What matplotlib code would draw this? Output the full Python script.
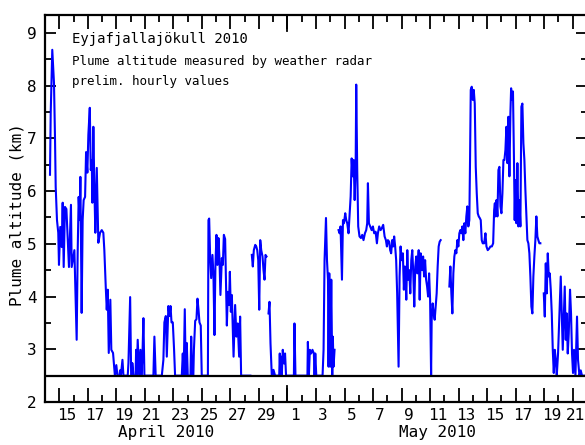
#!/usr/bin/env python3
"""Eyjafjallajokull 2010 plume altitude from weather radar (hourly, preliminary)."""

import matplotlib

matplotlib.use("Agg")
import matplotlib.pyplot as plt
import numpy as np

# time axis: day of April 2010 (31 = 1 May), altitude in km a.s.l.
# values at 2.5 km sit on the radar detection floor
seg1_day = [
    14.35, 14.40, 14.51, 14.63, 14.70, 14.75, 14.84, 14.93, 14.98, 15.07,
    15.17, 15.24, 15.31, 15.40, 15.50, 15.68, 15.82, 15.87, 16.06, 16.15,
    16.22, 16.29, 16.36, 16.43, 16.48, 16.53, 16.57, 16.64, 16.71, 16.81,
    16.88, 16.97, 17.04, 17.14, 17.21, 17.28, 17.32, 17.39, 17.46, 17.53,
    17.63, 17.74, 17.86, 17.98, 18.09, 18.16, 18.26, 18.33, 18.40, 18.47,
    18.58, 18.65, 18.77, 18.90, 19.00, 19.08, 19.22, 19.26, 19.32, 19.43,
    19.50, 19.80, 19.85, 19.97, 20.04, 20.10, 20.12, 20.20, 20.35, 20.39,
    20.43, 20.50, 20.60, 20.69, 20.76, 20.83, 20.90, 20.97, 21.60, 21.67,
    21.76, 22.19, 22.30, 22.37, 22.47, 22.54, 22.65, 22.73, 22.80, 22.87,
    22.96, 23.05, 23.12, 23.59, 23.66, 23.72, 23.80, 23.87, 23.94, 24.01,
    24.20, 24.25, 24.32, 24.40, 24.44, 24.53, 24.62, 24.69, 24.76, 24.83,
    24.92, 24.99, 25.42, 25.46, 25.51, 25.58, 25.65, 25.74, 25.81, 25.88,
    25.95, 26.02, 26.09, 26.16, 26.23, 26.30, 26.40, 26.47, 26.54, 26.63,
    26.75, 26.82, 26.90, 26.96, 27.03, 27.10, 27.22, 27.33, 27.42, 27.51,
    27.61, 27.68, 27.75, 28.40,
]
seg1_km = [
    6.31, 7.48, 8.68, 8.05, 7.03, 6.08, 5.45, 5.21, 4.60, 5.32,
    4.94, 5.78, 4.56, 5.70, 5.66, 4.56, 5.74, 4.56, 4.88, 3.88,
    3.18, 4.83, 5.89, 5.45, 6.27, 4.83, 3.69, 5.45, 5.83, 5.89,
    6.74, 6.35, 7.07, 7.58, 6.40, 6.59, 5.78, 7.22, 6.08, 5.21,
    6.44, 5.02, 5.21, 5.26, 5.21, 4.88, 4.18, 3.75, 4.13, 2.93,
    3.94, 2.99, 2.93, 2.50, 2.70, 2.50, 2.50, 2.60, 2.50, 2.80,
    2.50, 2.50, 2.74, 3.99, 2.50, 2.50, 2.74, 2.50, 2.50, 2.99,
    2.50, 3.18, 2.50, 2.99, 2.50, 2.86, 3.59, 2.50, 2.50, 3.24,
    2.50, 2.50, 2.80, 3.51, 3.63, 2.86, 3.82, 3.63, 3.82, 3.51,
    3.51, 2.99, 2.50, 2.50, 2.92, 2.50, 3.76, 2.50, 3.12, 2.50,
    2.50, 3.24, 2.50, 2.50, 2.99, 3.54, 3.57, 3.96, 3.76, 3.51,
    3.45, 2.50, 2.50, 5.45, 5.48, 4.73, 4.35, 4.79, 4.41, 3.27,
    4.60, 5.17, 4.60, 5.11, 4.73, 4.03, 4.73, 4.60, 5.17, 5.09,
    3.45, 4.09, 3.84, 4.47, 3.71, 4.03, 2.86, 3.84, 3.24, 3.49,
    2.86, 3.62, 2.50, 2.50,
]

seg2_day = [28.50, 28.57, 28.64, 28.74, 28.81, 28.88, 28.95, 29.02, 29.09,
            29.16, 29.25, 29.32, 29.39, 29.46, 29.53]
seg2_km = [4.79, 4.57, 4.88, 4.98, 4.95, 4.88, 4.69, 3.75, 5.07,
           4.88, 4.76, 4.50, 4.32, 4.79, 4.76]

seg3_day = [
    29.67, 29.74, 29.81, 29.90, 29.96, 30.02, 30.13, 30.42, 30.46, 30.50,
    30.55, 30.60, 30.67, 30.76, 30.83, 30.90, 31.45, 31.49, 31.56, 32.40,
    32.43, 32.50, 32.57, 32.66, 32.75, 32.85, 32.90, 32.95, 33.02, 33.46,
    33.53, 33.60, 33.70, 33.77, 33.84, 33.88, 33.93, 34.00, 34.07, 34.14,
    34.18, 34.23, 34.30,
]
seg3_km = [
    3.68, 3.90, 3.11, 2.50, 2.50, 2.61, 2.50, 2.50, 2.92, 2.50,
    2.86, 2.50, 2.99, 2.73, 2.92, 2.50, 2.50, 3.49, 2.50, 2.50,
    3.14, 2.50, 2.99, 2.92, 2.99, 2.92, 2.50, 2.92, 2.50, 2.50,
    2.99, 4.69, 5.49, 4.69, 4.32, 2.67, 4.44, 2.67, 4.32, 2.50,
    3.24, 2.67, 2.99,
]

seg4_day = [
    34.58, 34.65, 34.72, 34.82, 34.89, 34.96, 35.05, 35.12, 35.19, 35.28,
    35.35, 35.43, 35.50, 35.57, 35.64, 35.71, 35.78, 35.82, 35.89, 35.96,
    36.05, 36.15, 36.24, 36.33, 36.43, 36.52, 36.59, 36.64, 36.71, 36.80,
    36.90, 36.99, 37.08, 37.18, 37.27, 37.34, 37.43, 37.53, 37.62, 37.71,
    37.81, 37.90, 37.97, 38.04, 38.13, 38.20, 38.27, 38.34, 38.41, 38.48,
    38.55, 38.62, 38.69, 38.79, 38.86, 38.93, 39.00, 39.09, 39.16, 39.23,
    39.26, 39.33, 39.40, 39.47, 39.54, 39.61, 39.68, 39.75, 39.82, 39.89,
    39.96, 40.03, 40.11, 40.20, 40.27, 40.34, 40.44, 40.51, 40.58, 40.65,
    40.72, 40.79, 40.86, 40.93, 41.00, 41.07, 41.11, 41.18, 41.25, 41.32,
    41.39, 41.46, 41.53, 41.60, 41.67, 41.74,
]
seg4_km = [
    5.26, 5.20, 5.33, 4.32, 5.45, 5.39, 5.58, 5.45, 5.39, 5.20,
    5.52, 5.90, 6.62, 6.28, 6.59, 5.83, 6.46, 8.02, 6.40, 5.33,
    5.14, 5.11, 5.17, 5.07, 5.20, 5.26, 5.39, 6.15, 5.39, 5.33,
    5.26, 5.33, 5.20, 5.23, 5.01, 5.20, 5.33, 5.26, 5.30, 5.36,
    5.14, 5.07, 4.95, 5.07, 5.04, 4.88, 4.82, 5.07, 4.95, 5.14,
    4.95, 4.69, 4.06, 2.67, 4.38, 4.95, 4.69, 4.82, 4.13, 4.57,
    4.50, 3.94, 4.88, 4.32, 4.50, 4.06, 4.69, 4.88, 4.44, 3.81,
    4.57, 4.76, 4.44, 4.88, 3.94, 4.82, 4.50, 4.76, 4.38, 4.69,
    4.32, 4.19, 4.00, 4.44, 3.94, 2.50, 3.56, 3.87, 3.68, 3.56,
    3.81, 4.06, 4.57, 4.95, 5.04, 5.07,
]

seg5_day = [
    42.35, 42.42, 42.49, 42.56, 42.63, 42.70, 42.77, 42.84, 42.91, 42.98,
    43.05, 43.12, 43.19, 43.26, 43.33, 43.40, 43.47, 43.54, 43.61, 43.68,
    43.75, 43.80, 43.85, 43.92, 43.99, 44.06, 44.13, 44.20, 44.27, 44.34,
    44.41, 44.48, 44.55, 44.62, 44.69, 44.79, 44.88, 44.95, 45.04, 45.14,
    45.23, 45.33, 45.42, 45.49, 45.54, 45.58, 45.65, 45.72, 45.79, 45.86,
    45.93, 46.00, 46.07, 46.14, 46.21, 46.28, 46.35, 46.42, 46.49, 46.56,
    46.63, 46.68, 46.74, 46.81, 46.88, 46.93, 46.98, 47.05, 47.12, 47.19,
    47.26, 47.33, 47.40, 47.47, 47.54, 47.61, 47.68, 47.75, 47.82, 47.89,
    47.96, 48.03, 48.10, 48.17, 48.24, 48.31, 48.38, 48.45, 48.52, 48.59,
    48.66, 48.73,
]
seg5_km = [
    4.19, 4.57, 4.06, 3.68, 4.44, 4.76, 4.88, 4.82, 5.07, 4.95,
    5.20, 5.26, 5.20, 5.33, 5.07, 5.39, 5.20, 5.52, 5.71, 5.33,
    5.45, 6.59, 7.92, 7.98, 7.73, 7.92, 7.66, 6.46, 5.96, 5.58,
    5.52, 5.49, 5.45, 5.07, 5.01, 5.01, 5.20, 4.95, 4.88, 4.91,
    4.95, 4.95, 5.01, 5.64, 5.77, 5.52, 5.83, 5.52, 6.40, 6.46,
    5.71, 5.58, 5.96, 6.59, 6.59, 6.78, 7.22, 6.53, 7.41, 6.28,
    7.48, 7.95, 7.73, 7.89, 6.59, 5.45, 6.21, 5.39, 6.53, 5.33,
    5.83, 5.33, 7.60, 7.66, 6.91, 6.59, 6.02, 5.52, 5.07, 5.01,
    4.82, 4.38, 3.81, 3.68, 4.38, 4.76, 5.07, 5.52, 5.14, 5.07,
    5.01, 5.01,
]

seg6_day = [
    48.97, 49.04, 49.11, 49.18, 49.25, 49.32, 49.39, 49.46, 49.53, 49.60,
    49.67, 49.74, 49.81, 49.88, 49.97, 50.07, 50.16, 50.23, 50.30, 50.37,
    50.44, 50.51, 50.58, 50.65, 50.72, 50.81, 50.88, 50.95, 51.02, 51.09,
    51.19, 51.30, 51.37, 51.47, 51.56, 51.65, 51.80,
]
seg6_km = [
    4.06, 3.62, 4.63, 4.06, 4.82, 4.38, 4.44, 4.13, 3.68, 2.99,
    2.55, 2.99, 2.80, 2.50, 2.92, 3.68, 4.38, 3.68, 2.99, 3.56,
    4.19, 3.18, 3.68, 2.92, 3.30, 4.13, 3.68, 2.92, 2.55, 2.99,
    2.50, 3.62, 2.80, 2.50, 2.60, 2.50, 2.50,
]

SEGMENTS = [
    (seg1_day, seg1_km), (seg2_day, seg2_km), (seg3_day, seg3_km),
    (seg4_day, seg4_km), (seg5_day, seg5_km), (seg6_day, seg6_km),
]

FLOOR_KM = 2.5
LABEL_DAYS = list(range(15, 52, 2))


def joined(segments):
    # NaN between pieces leaves the radar outages blank
    xs, ys = [], []
    for d, k in segments:
        xs.extend(d + [np.nan])
        ys.extend(k + [np.nan])
    return np.array(xs), np.array(ys)


def main():
    plt.rcParams["font.family"] = ["DejaVu Sans Mono"]

    fig = plt.figure(figsize=(5.85, 4.45), dpi=100)
    ax = fig.add_axes([45 / 585, 43 / 445, 542 / 585, 387 / 445])

    x, y = joined(SEGMENTS)
    ax.plot(x, y, color="#0000ff", lw=1.5, zorder=2)
    ax.axhline(FLOOR_KM, color="black", lw=1.6, zorder=3)

    ax.set_xlim(14, 52)
    ax.set_ylim(2, 9.34)

    for s in ax.spines.values():
        s.set_linewidth(1.6)

    ax.set_xticks(LABEL_DAYS)
    ax.set_xticks(range(14, 53, 2), minor=True)
    ax.tick_params(axis="x", which="major", direction="in", length=10,
                   width=1.3, top=True, labelbottom=False)
    ax.tick_params(axis="x", which="minor", direction="in", length=5,
                   width=1.3, top=True)
    ax.set_yticks(range(2, 10))
    ax.set_yticks(np.arange(2.5, 9.5, 1.0), minor=True)
    ax.tick_params(axis="y", which="major", direction="in", length=8,
                   width=1.3, right=True, labelsize=11.5, pad=6)
    ax.tick_params(axis="y", which="minor", direction="in", length=4,
                   width=1.3, right=True)

    # month boundary gets a longer tick
    xt = ax.get_xaxis_transform()
    ax.plot([31, 31], [0, 16 / 387], transform=xt, color="black", lw=1.3,
            clip_on=False)
    ax.plot([31, 31], [1 - 16 / 387, 1], transform=xt, color="black", lw=1.3,
            clip_on=False)

    # day numbers centred on the day, not on the tick;
    # the last one is pulled in so it stays on the canvas
    for d in LABEL_DAYS:
        lab = d if d <= 30 else d - 30
        xpos, ha = d + 0.5, "center"
        if d == LABEL_DAYS[-1]:
            xpos, ha = 51.85, "right"
        ax.text(xpos, -0.034, str(lab), transform=xt, ha=ha,
                va="center", fontsize=11.5, clip_on=False)
    ax.text(22.5, -0.078, "April 2010", transform=xt, ha="center",
            va="center", fontsize=11.5)
    ax.text(41.5, -0.078, "May 2010", transform=xt, ha="center",
            va="center", fontsize=11.5)

    ax.set_ylabel("Plume altitude (km)", fontsize=11.5)
    ax.yaxis.set_label_coords(-20 / 542, 0.485)

    fig.text(72 / 585, 1 - 39 / 445, "Eyjafjallajökull 2010",
             fontsize=10, va="center")
    fig.text(72 / 585, 1 - 62 / 445,
             "Plume altitude measured by weather radar",
             fontsize=9, va="center")
    fig.text(72 / 585, 1 - 82 / 445, "prelim. hourly values",
             fontsize=9, va="center")

    fig.savefig("out.png", dpi=100)
    plt.close(fig)


if __name__ == "__main__":
    main()
